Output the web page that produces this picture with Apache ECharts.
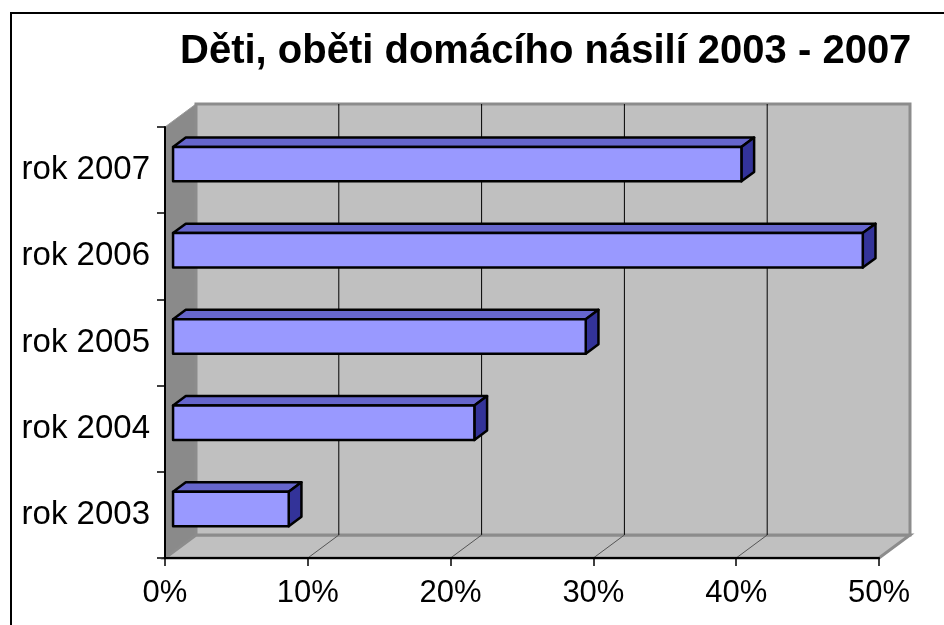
<!DOCTYPE html>
<html>
<head>
<meta charset="utf-8">
<script src="https://cdn.jsdelivr.net/npm/echarts@6/dist/echarts.min.js"></script>
<style>
  html, body { margin: 0; padding: 0; background: #fff; }
  #chart { width: 944px; height: 625px; }
</style>
</head>
<body>
<div id="chart"></div>
<script>
const titleText = 'Děti, oběti domácího násilí 2003 - 2007'
const years = ['rok 2003', 'rok 2004', 'rok 2005', 'rok 2006', 'rok 2007']
const shares = [8.1, 21.1, 28.9, 48.3, 39.8]
const xTicks = [0, 10, 20, 30, 40, 50]

// depth of the fake 3D box (pixels)
const DX = 31
const DY = -23
const FONT = 'Liberation Sans, Arial, sans-serif'

const chart = echarts.init(document.getElementById('chart'))

function renderWalls(params, api) {
  const cs = params.coordSys
  const x = cs.x, y = cs.y, w = cs.width, h = cs.height
  const children = []
  // side wall
  children.push({
    type: 'polygon',
    shape: { points: [[x, y], [x + DX, y + DY], [x + DX, y + h + DY], [x, y + h]] },
    style: { fill: '#8a8a8a', stroke: '#9a9a9a', lineWidth: 1 },
  })
  // floor
  children.push({
    type: 'polygon',
    shape: { points: [[x, y + h], [x + DX, y + h + DY], [x + w + DX, y + h + DY], [x + w, y + h]] },
    style: { fill: '#c0c0c0', stroke: '#8c8c8c', lineWidth: 3 },
  })
  // back wall
  children.push({
    type: 'rect',
    shape: { x: x + DX, y: y + DY, width: w, height: h },
    style: { fill: '#c0c0c0', stroke: '#8c8c8c', lineWidth: 3 },
  })
  // gridlines on back wall and floor
  xTicks.forEach(v => {
    if (v === xTicks[0] || v === xTicks[xTicks.length - 1]) return
    const px = api.coord([v, 0])[0]
    children.push({
      type: 'line',
      shape: { x1: px + DX, y1: y + DY, x2: px + DX, y2: y + h + DY },
      style: { stroke: '#000', lineWidth: 1 },
    })
    children.push({
      type: 'line',
      shape: { x1: px, y1: y + h, x2: px + DX, y2: y + h + DY },
      style: { stroke: '#555', lineWidth: 1 },
    })
  })
  return { type: 'group', children }
}

function renderBar(params, api) {
  const v = api.value(0)
  const cat = api.value(1)
  const p0 = api.coord([0, cat])
  const p1 = api.coord([v, cat])
  const barH = api.size([0, 1])[1] * 0.4
  const f0 = 0.26, f1 = 0.67
  const ox0 = DX * f0, oy0 = DY * f0
  const ox1 = DX * f1, oy1 = DY * f1
  const l = p0[0] + ox0, r = p1[0] + ox0
  const t = p0[1] + oy0 - barH / 2, b = p0[1] + oy0 + barH / 2
  const dx = ox1 - ox0, dy = oy1 - oy0
  const line = { stroke: '#000', lineWidth: 2.5, lineJoin: 'round' }
  return {
    type: 'group',
    children: [
      {
        type: 'polygon',
        shape: { points: [[l, t], [r, t], [r + dx, t + dy], [l + dx, t + dy]] },
        style: Object.assign({ fill: '#6666cc' }, line),
      },
      {
        type: 'polygon',
        shape: { points: [[r, t], [r + dx, t + dy], [r + dx, b + dy], [r, b]] },
        style: Object.assign({ fill: '#333399' }, line),
      },
      {
        type: 'rect',
        shape: { x: l, y: t, width: r - l, height: b - t },
        style: Object.assign({ fill: '#9999ff' }, line),
      },
    ],
  }
}

chart.setOption({
  animation: false,
  backgroundColor: '#fff',
  title: {
    text: titleText,
    left: 175,
    top: 27,
    textStyle: { fontFamily: FONT, fontSize: 40, fontWeight: 'bold', color: '#000' },
  },
  graphic: [{
    type: 'rect',
    z: -10,
    shape: { x: 11, y: 13, width: 1000, height: 700 },
    style: { fill: 'none', stroke: '#000', lineWidth: 2 },
  }],
  grid: { left: 165, right: 65, top: 127, bottom: 67, containLabel: false },
  xAxis: {
    type: 'value',
    min: 0,
    max: 50,
    interval: 10,
    axisLine: { show: true, lineStyle: { color: '#000', width: 2 } },
    axisTick: { show: true, length: 8, lineStyle: { color: '#000', width: 1.5 } },
    axisLabel: { formatter: '{value}%', fontFamily: FONT, fontSize: 31, color: '#000', margin: 20 },
    splitLine: { show: false },
    z: 5,
  },
  yAxis: {
    type: 'category',
    data: years,
    axisLine: { show: true, lineStyle: { color: '#000', width: 2 } },
    axisTick: { show: true, length: 8, lineStyle: { color: '#000', width: 1.5 } },
    axisLabel: { fontFamily: FONT, fontSize: 33, color: '#000', margin: 15 },
    splitLine: { show: false },
    z: 5,
  },
  series: [
    {
      type: 'custom',
      name: 'walls',
      renderItem: renderWalls,
      data: [[0, 0]],
      encode: { x: 0, y: 1 },
      silent: true,
      z: 1,
    },
    {
      type: 'custom',
      name: 'podíl',
      renderItem: renderBar,
      data: shares.map((v, i) => [v, i]),
      encode: { x: 0, y: 1 },
      z: 3,
    },
  ],
})
</script>
</body>
</html>
